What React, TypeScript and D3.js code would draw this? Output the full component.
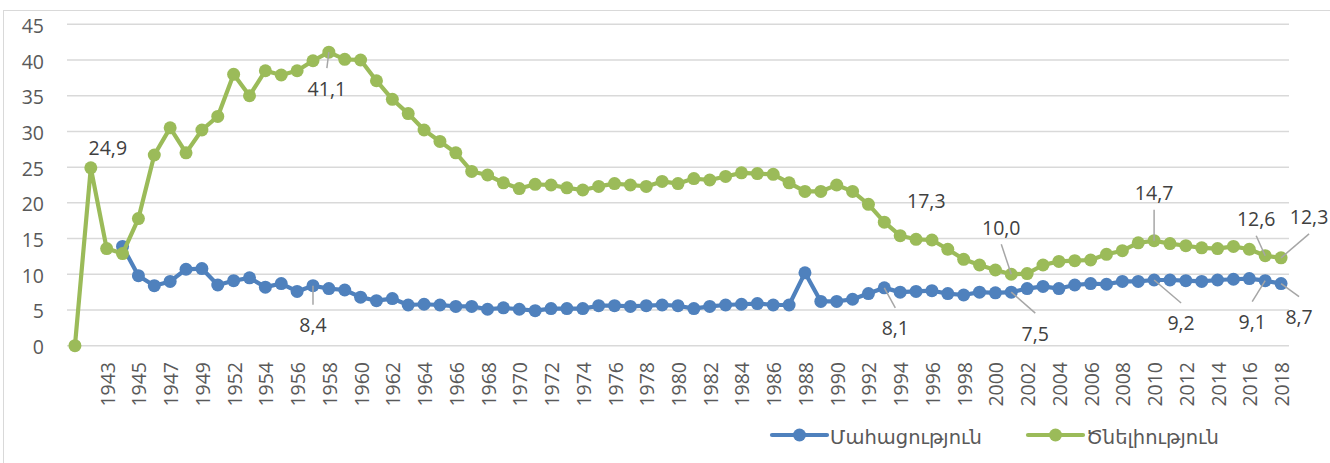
import React from "react";
import * as d3 from "d3";

const categories: string[] = [
  "", "1940", "1943", "1944", "1945", "1946", "1947", "1948", "1949", "1950",
  "1952", "1953", "1954", "1955", "1956", "1957", "1958", "1959", "1960", "1961",
  "1962", "1963", "1964", "1965", "1966", "1967", "1968", "1969", "1970", "1971",
  "1972", "1973", "1974", "1975", "1976", "1977", "1978", "1979", "1980", "1981",
  "1982", "1983", "1984", "1985", "1986", "1987", "1988", "1989", "1990", "1991",
  "1992", "1993", "1994", "1995", "1996", "1997", "1998", "1999", "2000", "2001",
  "2002", "2003", "2004", "2005", "2006", "2007", "2008", "2009", "2010", "2011",
  "2012", "2013", "2014", "2015", "2016", "2017", "2018",
];

const mortality: (number | null)[] = [
  null, null, null, 13.9, 9.8, 8.4, 9.0, 10.7, 10.8, 8.5,
  9.1, 9.5, 8.2, 8.7, 7.6, 8.4, 8.0, 7.8, 6.8, 6.3,
  6.6, 5.7, 5.8, 5.7, 5.5, 5.5, 5.1, 5.3, 5.1, 4.9,
  5.2, 5.2, 5.2, 5.6, 5.6, 5.5, 5.6, 5.7, 5.6, 5.2,
  5.5, 5.7, 5.8, 5.9, 5.7, 5.7, 10.2, 6.2, 6.2, 6.5,
  7.3, 8.1, 7.5, 7.6, 7.7, 7.3, 7.1, 7.5, 7.4, 7.5,
  8.0, 8.3, 8.0, 8.5, 8.7, 8.6, 9.0, 9.0, 9.2, 9.2,
  9.1, 9.0, 9.2, 9.3, 9.4, 9.1, 8.7,
];

const births: (number | null)[] = [
  0, 24.9, 13.6, 12.9, 17.8, 26.7, 30.5, 27.0, 30.2, 32.1,
  38.0, 35.0, 38.5, 37.9, 38.5, 39.9, 41.1, 40.1, 40.0, 37.1,
  34.5, 32.5, 30.2, 28.6, 27.0, 24.4, 23.9, 22.8, 22.0, 22.6,
  22.5, 22.1, 21.8, 22.3, 22.7, 22.5, 22.3, 23.0, 22.7, 23.4,
  23.2, 23.7, 24.2, 24.1, 24.0, 22.8, 21.6, 21.6, 22.5, 21.6,
  19.8, 17.3, 15.4, 14.9, 14.8, 13.5, 12.1, 11.3, 10.6, 10.0,
  10.1, 11.3, 11.8, 11.9, 12.0, 12.8, 13.3, 14.4, 14.7, 14.3,
  14.0, 13.7, 13.6, 13.9, 13.5, 12.6, 12.3,
];

const yTicks: number[] = [0, 5, 10, 15, 20, 25, 30, 35, 40, 45];

const seriesNames: string[] = ["Մահացություն", "Ծնելիություն"];
const seriesColors: string[] = ["#4f81bd", "#9bbb59"];

// labelled points: series index, category index
const labelSeries: number[] = [1, 1, 0, 1, 1, 1, 1, 1, 0, 0, 0, 0, 0];
const labelIndex: number[] = [1, 16, 15, 51, 59, 68, 75, 76, 51, 59, 68, 75, 76];
// label placement (offset from point, px) and leader flag
const labelDx: number[] = [17, -2, 0, 42, -10, 0, -9, 28, 11, 24, 27, -13, 18];
const labelDy: number[] = [-20, 36, 39, -22, -47, -48, -37, -41, 40, 41, 43, 41, 33];
const labelLeader: boolean[] = [false, true, true, false, true, true, true, true, true, true, true, true, true];

const W = 1330;
const H = 463;
const FONT = "'Open Sans', 'DejaVu Sans', sans-serif";

export default function App() {
  const n = categories.length;
  const x = d3
    .scalePoint<number>()
    .domain(d3.range(n))
    .range([67, 1289])
    .padding(0.5);
  const y = d3.scaleLinear().domain([0, 45]).range([345.7, 24.3]);

  const line = d3
    .line<number | null>()
    .defined((d) => d != null)
    .x((_, i) => x(i) as number)
    .y((d) => y(d as number));

  const fmt = (v: number) => d3.format(".1f")(v).replace(".", ",");
  const series = [mortality, births];

  return (
    <svg
      width={W}
      height={H}
      style={{ position: "absolute", left: 0, top: 0, background: "#fff" }}
      fontFamily={FONT}
    >
      <rect x={3.5} y={10.5} width={1400} height={500} fill="#fff" stroke="#d9d9d9" strokeWidth={1} />
      {yTicks.map((t) => (
        <line key={t} x1={67} x2={1289} y1={y(t)} y2={y(t)} stroke="#d9d9d9" strokeWidth={1.5} />
      ))}
      {yTicks.map((t) => (
        <text
          key={"yt" + t}
          x={44}
          y={y(t) + 1}
          textAnchor="end"
          dominantBaseline="central"
          fontSize={19.5}
          fill="#595959"
        >
          {t}
        </text>
      ))}
      {categories.map((c, i) =>
        i % 2 === 0 && c !== "" ? (
          <text
            key={"xl" + i}
            transform={`translate(${(x(i) as number) + 0.5},362) rotate(-90)`}
            textAnchor="end"
            dominantBaseline="central"
            fontSize={19.5}
            fill="#595959"
          >
            {c}
          </text>
        ) : null
      )}
      {series.map((s, si) => (
        <g key={"s" + si}>
          <path d={line(s) || ""} fill="none" stroke={seriesColors[si]} strokeWidth={4.2} strokeLinejoin="round" strokeLinecap="round" />
          {s.map((v, i) =>
            v == null ? null : (
              <circle key={i} cx={x(i) as number} cy={y(v)} r={6.5} fill={seriesColors[si]} />
            )
          )}
        </g>
      ))}
      {labelIndex.map((idx, k) => {
        const v = series[labelSeries[k]][idx] as number;
        const px = x(idx) as number;
        const py = y(v);
        const tx = px + labelDx[k];
        const ty = py + labelDy[k];
        const ey = ty + (labelDy[k] < 0 ? 17 : -20);
        return (
          <g key={"lb" + k}>
            {labelLeader[k] && (
              <line x1={px} y1={py} x2={tx} y2={ey} stroke="#a6a6a6" strokeWidth={1.5} />
            )}
            <text x={tx} y={ty} textAnchor="middle" dominantBaseline="central" fontSize={19.5} fill="#404040">
              {fmt(v)}
            </text>
          </g>
        );
      })}
      {[772, 1028].map((lx, si) => (
        <g key={"lg" + si}>
          <line x1={lx} x2={lx + 55} y1={435} y2={435} stroke={seriesColors[si]} strokeWidth={4.2} strokeLinecap="round" />
          <circle cx={lx + 27.5} cy={435} r={6.5} fill={seriesColors[si]} />
          <text x={lx + 58} y={436} dominantBaseline="central" fontSize={19.5} fill="#595959">
            {seriesNames[si]}
          </text>
        </g>
      ))}
    </svg>
  );
}
